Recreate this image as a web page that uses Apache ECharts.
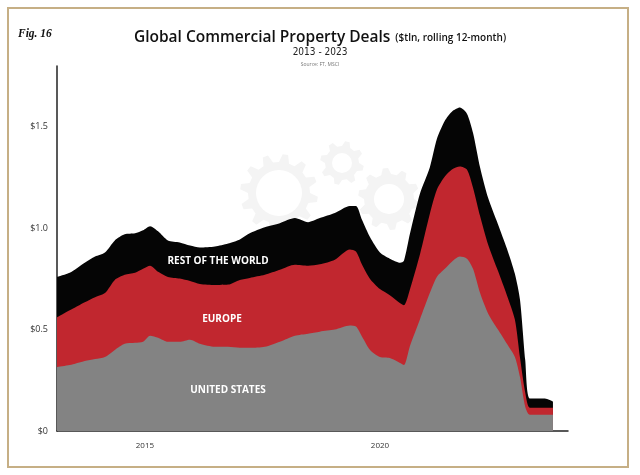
<!DOCTYPE html>
<html>
<head>
<meta charset="utf-8">
<script src="https://cdn.jsdelivr.net/npm/echarts@6/dist/echarts.min.js"></script>
<style>
  html, body { margin: 0; padding: 0; background: #fff; }
  #chart { width: 640px; height: 475px; }
</style>
</head>
<body>
<div id="chart"></div>
<script>
// 时间轴（年份小数），数据点读自原图
var years = [2013.13, 2013.40, 2013.72, 2013.94, 2014.15, 2014.36, 2014.57, 2014.79, 2014.96, 2015.11,
             2015.28, 2015.49, 2015.74, 2015.96, 2016.17, 2016.49, 2016.77, 2017.02, 2017.23, 2017.55,
             2017.87, 2018.19, 2018.47, 2018.72, 2019.04, 2019.36, 2019.49, 2019.62, 2019.79, 2020.00,
             2020.21, 2020.43, 2020.51, 2020.64, 2020.85, 2021.06, 2021.21, 2021.38, 2021.53, 2021.70,
             2021.85, 2021.98, 2022.13, 2022.30, 2022.51, 2022.70, 2022.87, 2022.98, 2023.09, 2023.19,
             2023.51, 2023.68];
// $tln
var unitedStates = [0.315, 0.325, 0.345, 0.355, 0.365, 0.40, 0.43, 0.435, 0.44, 0.47,
                    0.46, 0.44, 0.44, 0.45, 0.43, 0.415, 0.415, 0.41, 0.41, 0.415,
                    0.44, 0.47, 0.48, 0.49, 0.50, 0.52, 0.515, 0.465, 0.40, 0.365,
                    0.36, 0.335, 0.325, 0.42, 0.55, 0.68, 0.76, 0.80, 0.835, 0.86,
                    0.85, 0.80, 0.68, 0.58, 0.50, 0.43, 0.365, 0.265, 0.12, 0.08,
                    0.08, 0.08];
var europe = [0.245, 0.27, 0.29, 0.305, 0.315, 0.345, 0.34, 0.345, 0.36, 0.345,
              0.325, 0.32, 0.312, 0.29, 0.295, 0.305, 0.307, 0.335, 0.345, 0.355,
              0.355, 0.35, 0.335, 0.332, 0.345, 0.375, 0.37, 0.355, 0.35, 0.335,
              0.31, 0.295, 0.295, 0.28, 0.32, 0.39, 0.43, 0.455, 0.455, 0.445,
              0.44, 0.40, 0.38, 0.34, 0.29, 0.24, 0.185, 0.095, 0.07, 0.035,
              0.035, 0.035];
var restOfWorld = [0.20, 0.185, 0.195, 0.20, 0.20, 0.195, 0.20, 0.195, 0.19, 0.195,
                   0.20, 0.18, 0.178, 0.175, 0.18, 0.19, 0.203, 0.20, 0.22, 0.235,
                   0.23, 0.23, 0.215, 0.228, 0.23, 0.215, 0.225, 0.22, 0.205, 0.18,
                   0.18, 0.20, 0.22, 0.275, 0.30, 0.23, 0.25, 0.275, 0.285, 0.29,
                   0.275, 0.27, 0.24, 0.23, 0.23, 0.23, 0.225, 0.285, 0.16, 0.045,
                   0.045, 0.03];
var xTicks = [2015, 2020];
var yTicks = [0, 0.5, 1.0, 1.5];

// 累加：每层从 0 画到自己的顶端，上层先画、下层覆盖在上面
function cumulative(layers) {
  return years.map(function (yr, i) {
    var s = 0;
    layers.forEach(function (arr) { s += arr[i]; });
    return [yr, +s.toFixed(4)];
  });
}

// 背景齿轮水印
function gearPoints(cx, cy, rOut, rIn, teeth) {
  var pts = [];
  var step = Math.PI * 2 / teeth;
  for (var i = 0; i < teeth; i++) {
    var a = i * step;
    [[rIn, 0], [rOut, 0.18], [rOut, 0.45], [rIn, 0.63]].forEach(function (p) {
      pts.push([cx + p[0] * Math.cos(a + step * p[1]), cy + p[0] * Math.sin(a + step * p[1])]);
    });
  }
  return pts;
}
function gear(cx, cy, rOut, rIn, hole, teeth) {
  return [
    { type: 'polygon', z: 0, shape: { points: gearPoints(cx, cy, rOut, rIn, teeth) }, style: { fill: '#f4f4f4' } },
    { type: 'circle', z: 0, shape: { cx: cx, cy: cy, r: hole }, style: { fill: '#fff' } }
  ];
}

function areaSeries(name, data, color, z) {
  return {
    name: name,
    type: 'line',
    z: z,
    smooth: 0.25,
    symbol: 'none',
    lineStyle: { width: 0 },
    areaStyle: { color: color, opacity: 1 },
    itemStyle: { color: color },
    data: data
  };
}

var labelStyle = { fill: '#fff', fontFamily: 'Open Sans', fontWeight: 'bold', fontSize: 10, align: 'center', verticalAlign: 'middle' };

var chart = echarts.init(document.getElementById('chart'));
chart.setOption({
  backgroundColor: '#fff',
  animation: false,
  title: [
    {
      text: '{a|Global Commercial Property Deals} {b|($tln, rolling 12-month)}',
      left: 'center', top: 24,
      textStyle: {
        rich: {
          a: { fontFamily: 'Open Sans', fontWeight: 600, fontSize: 15.5, color: '#111' },
          b: { fontFamily: 'Open Sans', fontWeight: 600, fontSize: 10, color: '#111' }
        }
      }
    },
    {
      text: '2013 - 2023', left: 'center', top: 42,
      textStyle: { fontFamily: 'Liberation Sans Narrow, DejaVu Sans Condensed, sans-serif', fontWeight: 'normal', fontSize: 10, color: '#222' }
    },
    {
      text: 'Source: FT, MSCI', left: 'center', top: 57,
      textStyle: { fontFamily: 'Open Sans', fontWeight: 'normal', fontSize: 5, color: '#777' }
    },
    {
      text: 'Fig. 16', left: 13, top: 23,
      textStyle: { fontFamily: 'Liberation Serif', fontStyle: 'italic', fontWeight: 'bold', fontSize: 11.5, color: '#111' }
    }
  ],
  grid: { left: 57, right: 72, top: 66, bottom: 44 },
  xAxis: {
    type: 'value',
    min: 2013.13,
    max: 2024.0,
    splitLine: { show: false },
    axisLine: { lineStyle: { color: '#222', width: 1.5 } },
    axisTick: { show: false },
    axisLabel: {
      customValues: xTicks,
      margin: 11,
      fontFamily: 'Open Sans',
      fontSize: 8,
      color: '#333',
      formatter: function (v) { return String(v); }
    }
  },
  yAxis: {
    type: 'value',
    min: 0,
    max: 1.8,
    splitLine: { show: false },
    axisLine: { show: true, lineStyle: { color: '#222', width: 1.5 } },
    axisTick: { show: false },
    axisLabel: {
      customValues: yTicks,
      margin: 9,
      fontFamily: 'Open Sans',
      fontSize: 9,
      color: '#333',
      formatter: function (v) { return v === 0 ? '$0' : '$' + v.toFixed(1); }
    }
  },
  series: [
    areaSeries('Rest of the World', cumulative([unitedStates, europe, restOfWorld]), '#050505', 2),
    areaSeries('Europe', cumulative([unitedStates, europe]), '#c1272f', 3),
    areaSeries('United States', cumulative([unitedStates]), '#838383', 4)
  ],
  graphic: [].concat(
    gear(279, 193, 39, 31, 23, 12),
    gear(342, 163, 22, 17, 10, 8),
    gear(389, 199, 31, 25, 15, 10),
    [
      { type: 'rect', z: 50, shape: { x: 8, y: 8, width: 620, height: 459 }, style: { fill: 'none', stroke: '#c6af85', lineWidth: 2 } },
      { type: 'text', z: 100, x: 218, y: 261, style: Object.assign({ text: 'REST OF THE WORLD' }, labelStyle) },
      { type: 'text', z: 100, x: 222, y: 319, style: Object.assign({ text: 'EUROPE' }, labelStyle) },
      { type: 'text', z: 100, x: 228, y: 390, style: Object.assign({ text: 'UNITED STATES' }, labelStyle) }
    ]
  )
});
</script>
</body>
</html>
